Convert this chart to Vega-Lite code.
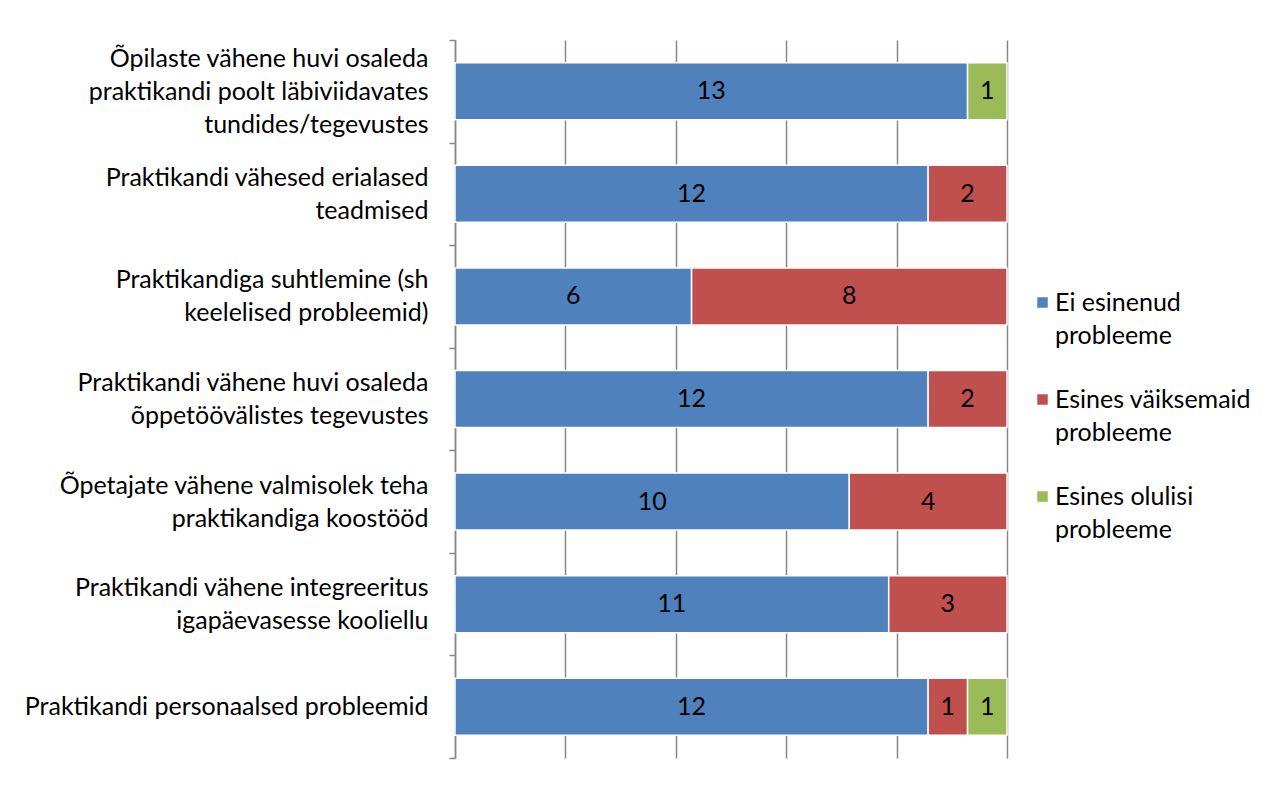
{
  "$schema": "https://vega.github.io/schema/vega-lite/v6.json",
  "width": 552,
  "height": 718,
  "autosize": {"type": "none"},
  "padding": {"left": 455, "top": 40, "right": 277, "bottom": 27},
  "background": "white",
  "config": {
    "view": {"stroke": null},
    "font": "Lato",
    "style": {"guide-label": {"lineHeight": 33}}
  },
  "data": {
    "values": [
      {"cat": "Õpilaste vähene huvi osaleda|praktikandi poolt läbiviidavates|tundides/tegevustes", "type": "Ei esinenud|probleeme", "k": 1, "n": 13},
      {"cat": "Õpilaste vähene huvi osaleda|praktikandi poolt läbiviidavates|tundides/tegevustes", "type": "Esines olulisi|probleeme", "k": 3, "n": 1},
      {"cat": "Praktikandi vähesed erialased|teadmised", "type": "Ei esinenud|probleeme", "k": 1, "n": 12},
      {"cat": "Praktikandi vähesed erialased|teadmised", "type": "Esines väiksemaid|probleeme", "k": 2, "n": 2},
      {"cat": "Praktikandiga suhtlemine (sh|keelelised probleemid)", "type": "Ei esinenud|probleeme", "k": 1, "n": 6},
      {"cat": "Praktikandiga suhtlemine (sh|keelelised probleemid)", "type": "Esines väiksemaid|probleeme", "k": 2, "n": 8},
      {"cat": "Praktikandi vähene huvi osaleda|õppetöövälistes tegevustes", "type": "Ei esinenud|probleeme", "k": 1, "n": 12},
      {"cat": "Praktikandi vähene huvi osaleda|õppetöövälistes tegevustes", "type": "Esines väiksemaid|probleeme", "k": 2, "n": 2},
      {"cat": "Õpetajate vähene valmisolek teha|praktikandiga koostööd", "type": "Ei esinenud|probleeme", "k": 1, "n": 10},
      {"cat": "Õpetajate vähene valmisolek teha|praktikandiga koostööd", "type": "Esines väiksemaid|probleeme", "k": 2, "n": 4},
      {"cat": "Praktikandi vähene integreeritus|igapäevasesse kooliellu", "type": "Ei esinenud|probleeme", "k": 1, "n": 11},
      {"cat": "Praktikandi vähene integreeritus|igapäevasesse kooliellu", "type": "Esines väiksemaid|probleeme", "k": 2, "n": 3},
      {"cat": "Praktikandi personaalsed probleemid", "type": "Ei esinenud|probleeme", "k": 1, "n": 12},
      {"cat": "Praktikandi personaalsed probleemid", "type": "Esines väiksemaid|probleeme", "k": 2, "n": 1},
      {"cat": "Praktikandi personaalsed probleemid", "type": "Esines olulisi|probleeme", "k": 3, "n": 1}
    ]
  },
  "encoding": {
    "y": {
      "field": "cat",
      "type": "nominal",
      "sort": null,
      "scale": {"paddingInner": 0, "paddingOuter": 0},
      "axis": {
        "title": null,
        "domainColor": "#868686",
        "domainWidth": 1.5,
        "tickColor": "#868686",
        "tickWidth": 1.5,
        "tickSize": 6,
        "tickBand": "extent",
        "labelFontSize": 25,
        "labelColor": "black",
        "labelExpr": "split(datum.label, '|')",
        "labelLineHeight": 33,
        "labelLimit": 0,
        "labelPadding": 21,
        "labelBaseline": "middle",
        "labelOffset": {
          "condition": [
            {"test": "length(split(datum.value, '|')) == 3", "value": -33},
            {"test": "length(split(datum.value, '|')) == 2", "value": -16.5}
          ],
          "value": 0
        }
      }
    },
    "order": {"field": "k", "type": "quantitative"}
  },
  "layer": [
    {
      "mark": {"type": "bar", "stroke": "white", "strokeWidth": 1.5, "height": {"band": 0.556}},
      "encoding": {
        "x": {
          "field": "n",
          "type": "quantitative",
          "stack": "normalize",
          "scale": {"domain": [0, 1]},
          "axis": {
            "title": null,
            "labels": false,
            "ticks": false,
            "domain": false,
            "grid": true,
            "gridColor": "#868686",
            "gridWidth": 1.5,
            "values": [0, 0.2, 0.4, 0.6, 0.8, 1]
          }
        },
        "color": {
          "field": "type",
          "type": "nominal",
          "scale": {
            "domain": ["Ei esinenud|probleeme", "Esines väiksemaid|probleeme", "Esines olulisi|probleeme"],
            "range": ["#4F81BD", "#C0504D", "#9BBB59"]
          },
          "legend": {
            "title": null,
            "orient": "none",
            "legendX": 575,
            "legendY": 250,
            "labelExpr": "split(datum.label, '|')",
            "labelFontSize": 25,
            "labelColor": "black",
            "labelBaseline": "middle",
            "symbolType": "square",
            "symbolSize": 110,
            "symbolStrokeWidth": 0,
            "rowPadding": 38,
            "labelLimit": 0,
            "labelOffset": 0
          }
        }
      }
    },
    {
      "mark": {"type": "text", "fontSize": 25, "color": "black"},
      "encoding": {
        "x": {"field": "n", "type": "quantitative", "stack": "normalize", "bandPosition": 0.5},
        "detail": {"field": "type"},
        "text": {"field": "n", "type": "quantitative"}
      }
    }
  ]
}
